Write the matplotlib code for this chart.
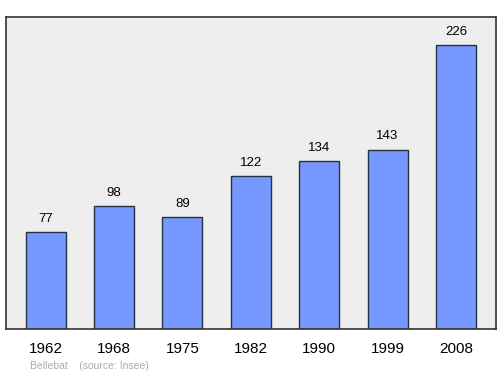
import matplotlib
matplotlib.use("Agg")
import matplotlib.pyplot as plt

plt.rcParams['font.family'] = ['Liberation Sans', 'DejaVu Sans']

# data
years = ['1962', '1968', '1975', '1982', '1990', '1999', '2008']
population = [77, 98, 89, 122, 134, 143, 226]

fig = plt.figure(figsize=(5, 3.74), dpi=100)
ax = fig.add_axes([0.011, 0.1203, 0.981, 0.8342])
ax.set_facecolor('#eeeeee')

x = range(len(years))
ax.bar(x, population, width=0.585, color='#7799ff', edgecolor='#223344', linewidth=1.0)

for xi, v in zip(x, population):
    ax.text(xi, v + max(population) * 0.025, str(v), ha='center', va='bottom', fontsize=9.5)

ax.set_xlim(-0.585, len(years) - 1 + 0.585)
ax.set_ylim(0, max(population) * 1.1)
ax.set_xticks(list(x))
ax.set_xticklabels(years, fontsize=11)
ax.tick_params(axis='x', length=0, pad=9)
ax.set_yticks([])
for s in ax.spines.values():
    s.set_color('#333333')
    s.set_linewidth(1.2)

fig.text(0.06, 0.008, 'Bellebat    (source: Insee)', fontsize=7.5, color='#aaaaaa', ha='left', va='bottom')

fig.savefig('out.png', dpi=100)
